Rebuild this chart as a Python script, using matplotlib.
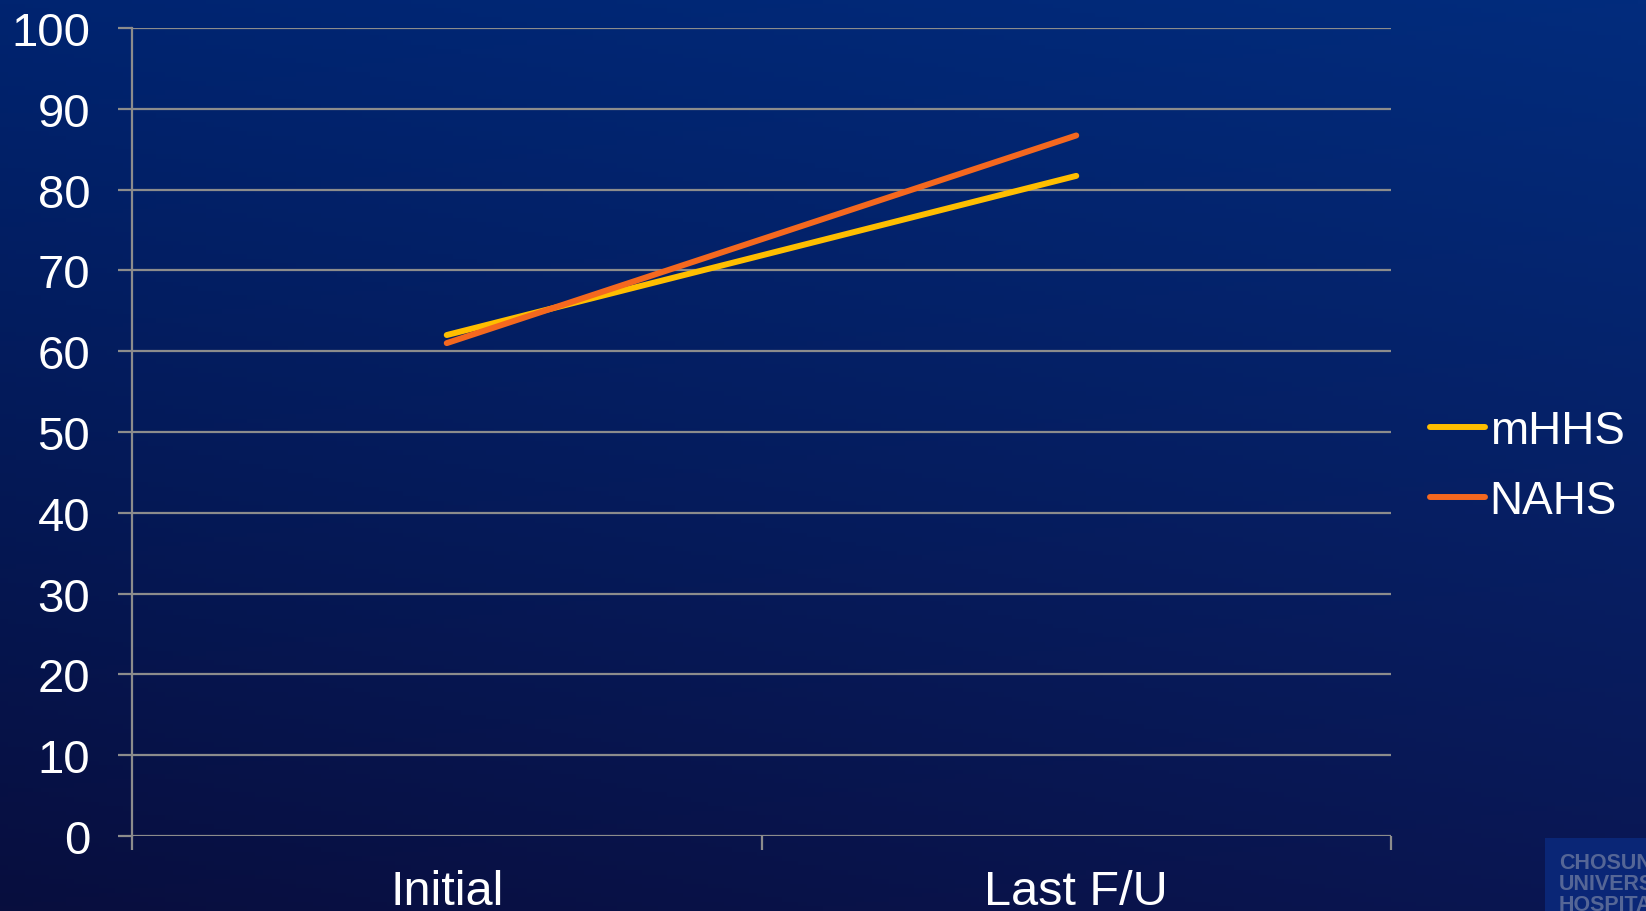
import numpy as np
import matplotlib.pyplot as plt
from matplotlib.patches import Rectangle

plt.rcParams['font.family'] = ['Liberation Sans', 'DejaVu Sans']

# Données du graphique
categories = ['Initial', 'Last F/U']
mhhs = [62.0, 81.7]
nahs = [61.0, 86.7]
y_ticks = list(range(0, 101, 10))

fig = plt.figure(figsize=(16.46, 9.12), dpi=100)

# Fond dégradé bleu
bg = fig.add_axes([0, 0, 1, 1], zorder=-10)
yy, xx = np.mgrid[0:1:200j, 0:1:200j]
top_l = np.array([0, 36, 112]) / 255
top_r = np.array([2, 44, 125]) / 255
bot_l = np.array([8, 14, 62]) / 255
bot_r = np.array([10, 22, 82]) / 255
img = (top_l * ((1 - xx) * (1 - yy))[..., None] + top_r * (xx * (1 - yy))[..., None]
       + bot_l * ((1 - xx) * yy)[..., None] + bot_r * (xx * yy)[..., None])
bg.imshow(img, aspect='auto', extent=[0, 1, 0, 1], origin='upper')
bg.axis('off')

# Logo en bas à droite (coupé par le bord, comme dans l'original)
bg.add_patch(Rectangle((1545 / 1646, 0), 1, 1 - 839 / 912, color=(10/255, 38/255, 118/255), lw=0))
bg.text(1559 / 1646, 1 - 853 / 912, 'CHOSUN\nUNIVERSITY\nHOSPITAL', color=(85/255, 102/255, 150/255),
        fontsize=15.5, fontweight='bold', va='top', ha='left', linespacing=1.0, clip_on=True)
bg.set_xlim(0, 1)
bg.set_ylim(0, 1)

ax = fig.add_axes([132 / 1646, 1 - 837 / 912, (1391 - 132) / 1646, (837 - 29) / 912])
ax.set_facecolor('none')
x = np.arange(len(categories)) + 0.5
grid_c = '#8c8c8c'
for v in y_ticks:
    ax.axhline(v, color=grid_c, lw=1.6, zorder=1)

ax.plot(x, mhhs, color='#FFBE00', lw=4.3, solid_capstyle='round', label='mHHS', zorder=3)
ax.plot(x, nahs, color='#F4681F', lw=4.3, solid_capstyle='round', label='NAHS', zorder=4)

ax.set_xlim(0, 2)
ax.set_ylim(0, 100)
ax.set_yticks(y_ticks)
ax.set_xticks([0, 1, 2])
ax.set_xticklabels([])
ax.set_xticks(x, minor=True)
ax.set_xticklabels(categories, minor=True)
ax.tick_params(axis='y', colors=grid_c, labelcolor='white', labelsize=34, length=10, width=1.6, pad=20)
ax.tick_params(axis='x', which='major', colors=grid_c, length=10, width=1.6)
ax.tick_params(axis='x', which='minor', length=0, labelcolor='white', labelsize=35, pad=24)
for s in ['top', 'right', 'bottom']:
    ax.spines[s].set_visible(False)
ax.spines['left'].set_color(grid_c)
ax.spines['left'].set_linewidth(1.6)

fig.legend(loc='center left', bbox_to_anchor=(1430 / 1646, 1 - 467 / 912), frameon=False,
           fontsize=33, labelcolor='white', handlelength=1.2, handletextpad=0.1,
           labelspacing=0.55, borderpad=0, borderaxespad=0)

fig.savefig('out.png', dpi=100)
